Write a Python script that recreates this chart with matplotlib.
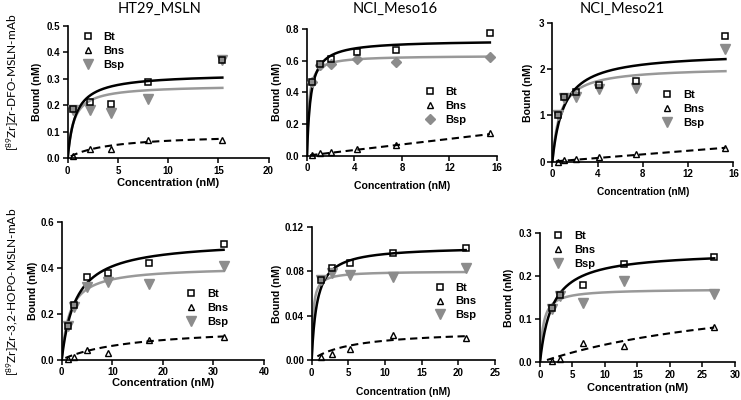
import numpy as np
import matplotlib.pyplot as plt

plt.rcParams['font.family'] = ['Liberation Sans', 'DejaVu Sans']
plt.rcParams['mathtext.default'] = 'regular'

titles = ["HT29_MSLN", "NCI_Meso16", "NCI_Meso21"]
row_labels = [r"[$^{89}$Zr]Zr-DFO-MSLN-mAb", r"[$^{89}$Zr]Zr-3,2-HOPO-MSLN-mAb"]

ht29_x = [0.5, 2.2, 4.3, 8.0, 15.4]
ht29_bt = [0.185, 0.212, 0.206, 0.289, 0.373]
ht29_bns = [0.008, 0.033, 0.035, 0.070, 0.070]
ht29_bsp = [0.180, 0.181, 0.171, 0.222, 0.370]

m16_x = [0.45, 1.07, 2.06, 4.2, 7.46, 15.4]
m16_bt = [0.467, 0.579, 0.610, 0.657, 0.667, 0.773]
m16_bns = [0.004, 0.015, 0.021, 0.044, 0.069, 0.141]
m16_bsp = [0.467, 0.570, 0.577, 0.608, 0.589, 0.621]

m21_x = [0.53, 1.03, 2.06, 4.13, 7.37, 15.3]
m21_bt = [1.01, 1.39, 1.50, 1.65, 1.75, 2.73]
m21_bns = [0.00, 0.03, 0.05, 0.09, 0.17, 0.30]
m21_bsp = [1.00, 1.38, 1.41, 1.57, 1.59, 2.44]

hopo_ht29_x = [1.2, 2.5, 5.06, 9.2, 17.3, 32.0]
hopo_ht29_bt = [0.146, 0.239, 0.358, 0.378, 0.422, 0.502]
hopo_ht29_bns = [0.002, 0.010, 0.042, 0.030, 0.084, 0.097]
hopo_ht29_bsp = [0.145, 0.230, 0.316, 0.338, 0.327, 0.408]

hopo_m16_x = [1.3, 2.8, 5.2, 11.1, 21.0]
hopo_m16_bt = [0.072, 0.083, 0.0876, 0.0966, 0.101]
hopo_m16_bns = [0.003, 0.005, 0.010, 0.0225, 0.0195]
hopo_m16_bsp = [0.072, 0.0786, 0.077, 0.0744, 0.0825]

hopo_m21_x = [1.8, 3.08, 6.6, 12.9, 26.8]
hopo_m21_bt = [0.127, 0.157, 0.180, 0.230, 0.244]
hopo_m21_bns = [0.004, 0.007, 0.044, 0.039, 0.083]
hopo_m21_bsp = [0.125, 0.155, 0.137, 0.189, 0.160]

# fitted curves: (Bmax, Kd, linear slope)
fits_bt = [(0.320, 0.78, 0), (0.7285, 0.31, 0), (2.37, 1.02, 0),
           (0.52, 2.8, 0), (0.1025, 0.74, 0), (0.259, 1.88, 0)]
fits_bsp = [(0.276, 0.60, 0), (0.6315, 0.16, 0), (2.05, 0.70, 0),
            (0.405, 1.6, 0), (0.080, 0.20, 0), (0.171, 0.50, 0)]
fits_bns = [(0.092, 4.1, 0), (0, 1, 0.0088), (0, 1, 0.0196),
            (0.146, 14.3, 0), (0.0273, 5.7, 0), (0.19, 36.0, 0)]

panels = [
    (ht29_x, ht29_bt, ht29_bns, ht29_bsp),
    (m16_x, m16_bt, m16_bns, m16_bsp),
    (m21_x, m21_bt, m21_bns, m21_bsp),
    (hopo_ht29_x, hopo_ht29_bt, hopo_ht29_bns, hopo_ht29_bsp),
    (hopo_m16_x, hopo_m16_bt, hopo_m16_bns, hopo_m16_bsp),
    (hopo_m21_x, hopo_m21_bt, hopo_m21_bns, hopo_m21_bsp),
]

xmax = [20, 16, 16, 40, 25, 30]
ymax = [0.5, 0.8, 3, 0.6, 0.12, 0.3]
xstep = [5, 4, 4, 10, 5, 5]
ystep = [0.1, 0.2, 1, 0.2, 0.04, 0.1]
yfmt = ["%.1f", "%.1f", "%d", "%.1f", "%.2f", "%.1f"]

positions = [
    [0.0914, 0.605, 0.271, 0.330],
    [0.4143, 0.611, 0.2564, 0.3168],
    [0.7454, 0.596, 0.2443, 0.346],
    [0.0833, 0.101, 0.273, 0.3445],
    [0.4206, 0.100, 0.2474, 0.333],
    [0.7287, 0.094, 0.2632, 0.3225],
]
xlabel_size = [8, 7.6, 7.3, 8, 7.4, 7.9]
# label centres in figure pixels (from top-left)
xlabel_y_px = [183, 186, 192, 383, 392, 388]
ylabel_x_px = [37, 277, 528, 33, 277, 509]
# legend handle x and middle-entry y, in axes fraction
legend_pos = [(0.10, 0.81), (0.647, 0.39), (0.635, 0.38),
              (0.64, 0.376), (0.70, 0.44), (0.094, 0.87)]

GRAY = "#8c8c8c"
LINE_GRAY = "#999999"


def one_site(x, p):
    bmax, kd, ns = p
    return bmax * x / (kd + x) + ns * x


fig = plt.figure(figsize=(7.41, 4.0), dpi=100)

for i, (x, bt, bns, bsp) in enumerate(panels):
    ax = fig.add_axes(positions[i])
    xs = np.linspace(0, max(x), 300)
    ax.plot(xs, one_site(xs, fits_bsp[i]), color=LINE_GRAY, lw=1.8, zorder=2)
    ax.plot(xs, one_site(xs, fits_bt[i]), color="black", lw=1.8, zorder=2)
    xs_ns = np.linspace(min(x) * 0.6, max(x), 300)
    ax.plot(xs_ns, one_site(xs_ns, fits_bns[i]), color="black", lw=1.5,
            ls=(0, (3.5, 2.2)), zorder=2)

    bsp_marker = "D" if i == 1 else "v"
    bsp_ms = 5.5 if i == 1 else 6.5
    h_bsp, = ax.plot(x, bsp, ls="none", marker=bsp_marker, ms=bsp_ms,
                     color=GRAY, mec=GRAY, clip_on=False, zorder=3)
    h_bt, = ax.plot(x, bt, ls="none", marker="s", ms=5, mfc="none",
                    mec="black", mew=1.1, clip_on=False, zorder=4)
    h_bns, = ax.plot(x, bns, ls="none", marker="^", ms=5, mfc="none",
                     mec="black", mew=1.0, clip_on=False, zorder=4)

    ax.set_xlim(0, xmax[i])
    ax.set_ylim(0, ymax[i])
    ax.set_xticks(np.arange(0, xmax[i] + 1e-9, xstep[i]))
    ax.set_yticks(np.arange(0, ymax[i] + 1e-9, ystep[i]))
    ax.yaxis.set_major_formatter(plt.FormatStrFormatter(yfmt[i]))
    for s in ["top", "right"]:
        ax.spines[s].set_visible(False)
    for s in ["left", "bottom"]:
        ax.spines[s].set_linewidth(1.2)
    ax.tick_params(direction="out", length=3.5, width=1.1, labelsize=7, pad=2)
    for lab in ax.get_xticklabels() + ax.get_yticklabels():
        lab.set_fontweight("bold")

    left, bottom, width, height = positions[i]
    left_px, w_px = left * 741, width * 741
    bottom_px, h_px = (1 - bottom) * 400, height * 400
    ax.set_xlabel("Concentration (nM)", fontsize=xlabel_size[i],
                  fontweight="bold", va="center")
    ax.xaxis.set_label_coords(0.5, (bottom_px - xlabel_y_px[i]) / h_px)
    ax.set_ylabel("Bound (nM)", fontsize=7.6, fontweight="bold", va="center")
    ax.yaxis.set_label_coords((ylabel_x_px[i] - left_px) / w_px, 0.5)

    lx, ly = legend_pos[i]
    ax.legend([h_bt, h_bns, h_bsp], ["Bt", "Bns", "Bsp"], loc="center left",
              bbox_to_anchor=(lx - 5.5 / w_px, ly), frameon=False,
              borderpad=0, borderaxespad=0, handlelength=1.0,
              handletextpad=0.9, labelspacing=0.35,
              prop={"weight": "bold", "size": 8})

title_x = [160, 395, 622]
for t, tx in zip(titles, title_x):
    fig.text(tx / 741, 1 - 9 / 400, t, ha="center", va="center",
             fontsize=10.5, family=["Lato", "DejaVu Sans"])

fig.text(13 / 741, 1 - 82 / 400, row_labels[0], rotation=90, ha="center",
         va="center", fontsize=8.6, family=["Lato", "DejaVu Sans"])
fig.text(13 / 741, 1 - 292 / 400, row_labels[1], rotation=90, ha="center",
         va="center", fontsize=8.6, family=["Lato", "DejaVu Sans"])

fig.savefig("out.png", dpi=100)
